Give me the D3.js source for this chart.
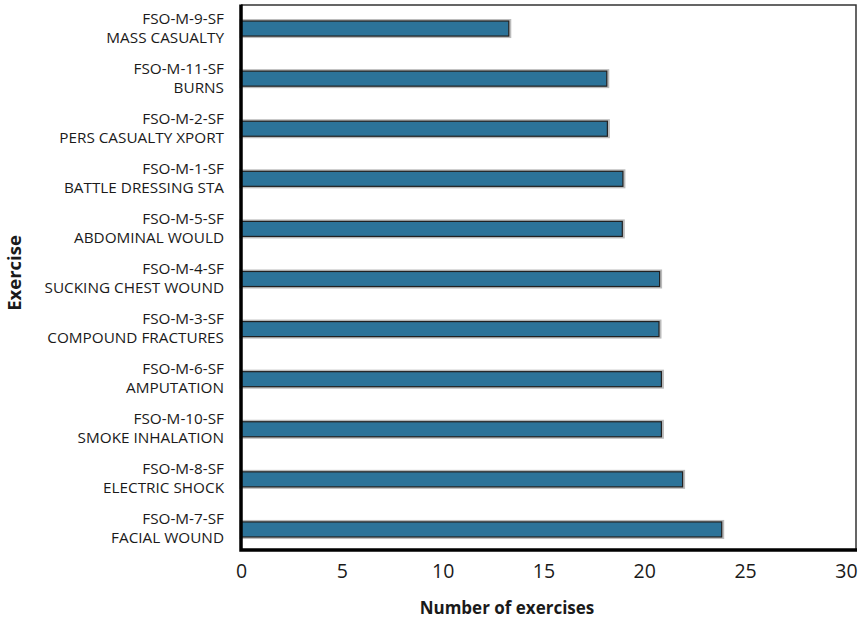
<!DOCTYPE html>
<html>
<head>
<meta charset="utf-8">
<script src="https://cdn.jsdelivr.net/npm/d3@7"></script>
<style>
  html, body { margin: 0; padding: 0; background: #fff; }
  svg { display: block; }
  text { font-family: "Open Sans", sans-serif; fill: #1a1a1a; }
</style>
</head>
<body>
<svg id="chart" width="859" height="623"></svg>
<script>
// Data (top to bottom)
const codes = ["FSO-M-9-SF","FSO-M-11-SF","FSO-M-2-SF","FSO-M-1-SF","FSO-M-5-SF","FSO-M-4-SF","FSO-M-3-SF","FSO-M-6-SF","FSO-M-10-SF","FSO-M-8-SF","FSO-M-7-SF"];
const names = ["MASS CASUALTY","BURNS","PERS CASUALTY XPORT","BATTLE DRESSING STA","ABDOMINAL WOULD","SUCKING CHEST WOUND","COMPOUND FRACTURES","AMPUTATION","SMOKE INHALATION","ELECTRIC SHOCK","FACIAL WOUND"];
const values = [13.28, 18.14, 18.17, 18.94, 18.91, 20.76, 20.73, 20.85, 20.85, 21.9, 23.84];
const tickValues = [0, 5, 10, 15, 20, 25, 30];
const xTitle = "Number of exercises";
const yTitle = "Exercise";

(function () {
const svg = d3.select("#chart");
const pL = 241, pR = 856, pT = 5, pB = 550;

const x = d3.scaleLinear().domain([0, 30.5]).range([pL, pR]);
const y = d3.scaleBand().domain(codes).range([3.5, 554.5]).paddingInner(0.7).paddingOuter(0.35);

// frame (top & right thin)
svg.append("path")
  .attr("d", `M${pL},${pT}H${pR}V${pB}`)
  .attr("fill", "none").attr("stroke", "#333").attr("stroke-width", 1.5);

// bars
const bars = svg.append("g");
bars.selectAll("rect.halo").data(values).join("rect").attr("class", "halo")
  .attr("x", x(0)).attr("y", (d, i) => y(codes[i]) - 0.5)
  .attr("width", d => x(d) - x(0) + 1).attr("height", y.bandwidth() + 1)
  .attr("fill", "none").attr("stroke", "#bbb").attr("stroke-width", 3);
bars.selectAll("rect.bar").data(values).join("rect").attr("class", "bar")
  .attr("x", x(0)).attr("y", (d, i) => y(codes[i]))
  .attr("width", d => x(d) - x(0)).attr("height", y.bandwidth())
  .attr("fill", "#2c7399").attr("stroke", "#222").attr("stroke-width", 1.2);

// thick left and bottom axes
svg.append("path")
  .attr("d", `M${pL},${pT - 0.5}V${pB}H${pR + 1}`)
  .attr("fill", "none").attr("stroke", "#000").attr("stroke-width", 3.5);

// x tick labels
const xAxis = d3.axisBottom(x).tickValues(tickValues).tickSize(0).tickPadding(0).tickFormat(d3.format("d"));
const gx = svg.append("g").attr("transform", `translate(0,${pB + 10})`).call(xAxis);
gx.select(".domain").remove();
gx.selectAll("text").attr("font-size", 19.5).attr("font-family", "Open Sans, sans-serif").attr("fill", "#1a1a1a").attr("dy", "0.93em");

// y labels
const yl = svg.append("g");
codes.forEach((c, i) => {
  const cy = y(c) + y.bandwidth() / 2;
  const t = yl.append("text").attr("text-anchor", "end").attr("font-size", 15.3);
  t.append("tspan").attr("x", 224).attr("y", cy - 5).text(c);
  t.append("tspan").attr("x", 224).attr("y", cy + 14).text(names[i]);
});

// titles
svg.append("text").attr("x", 507).attr("y", 614)
  .attr("text-anchor", "middle").attr("font-size", 17).attr("font-weight", "bold").text(xTitle);
svg.append("text").attr("transform", "translate(21,273) rotate(-90)")
  .attr("text-anchor", "middle").attr("font-size", 18.5).attr("font-weight", "bold").text(yTitle);
})();
</script>
</body>
</html>
